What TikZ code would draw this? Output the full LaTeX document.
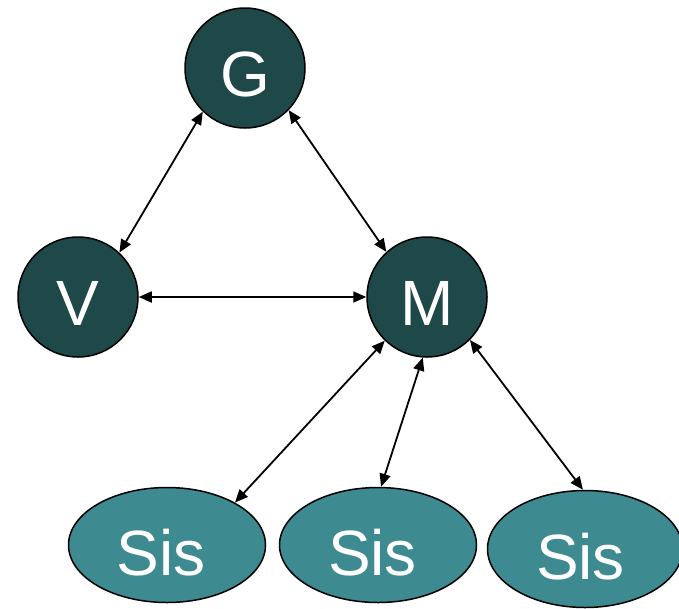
\documentclass[tikz,border=0pt]{standalone}
\usepackage{fontspec}
\setmainfont{Liberation Sans}
\usetikzlibrary{arrows.meta,shapes.geometric}
\definecolor{darkteal}{HTML}{1F4849}
\definecolor{lightteal}{HTML}{3D8A90}
\tikzset{
  x=1pt,y=-1pt,
  bignode/.style={circle,draw=black,line width=1.5pt,fill=darkteal,minimum size=120pt,inner sep=0pt,text=white,font=\fontsize{64}{64}\selectfont,text height=56pt,text depth=0pt},
  sisnode/.style={ellipse,draw=black,line width=1.5pt,fill=lightteal,minimum width=197pt,minimum height=115pt,inner sep=0pt,text=white,font=\fontsize{64}{64}\selectfont,text height=60pt,text depth=0pt},
  link/.style={line width=1.8pt,{Triangle[length=13pt,width=11pt]}-{Triangle[length=13pt,width=11pt]}}
}
\begin{document}
\begin{tikzpicture}
\useasboundingbox (0,0) rectangle (679,608);
\node[bignode] (g) at (245,68) {G};
\node[bignode] (v) at (78,297) {V};
\node[bignode] (m) at (427,297) {M};
\node[sisnode] (s1) at (167,545) {\hspace*{-12pt}Sis};
\node[sisnode] (s2) at (378,545) {\hspace*{-11pt}Sis};
\node[sisnode,minimum width=195pt,minimum height=117pt] (s3) at (585,549) {\hspace*{-9pt}Sis};
\draw[link] (g.226) -- (v.47);
\draw[link] (g.316) -- (m.132);
\draw[link] (v.east) -- (m.west);
\draw[link] (m.226) -- (s1.32);
\draw[link] (m.266) -- (s2.87);
\draw[link] (m.315) -- (s3.92);
\end{tikzpicture}
\end{document}
